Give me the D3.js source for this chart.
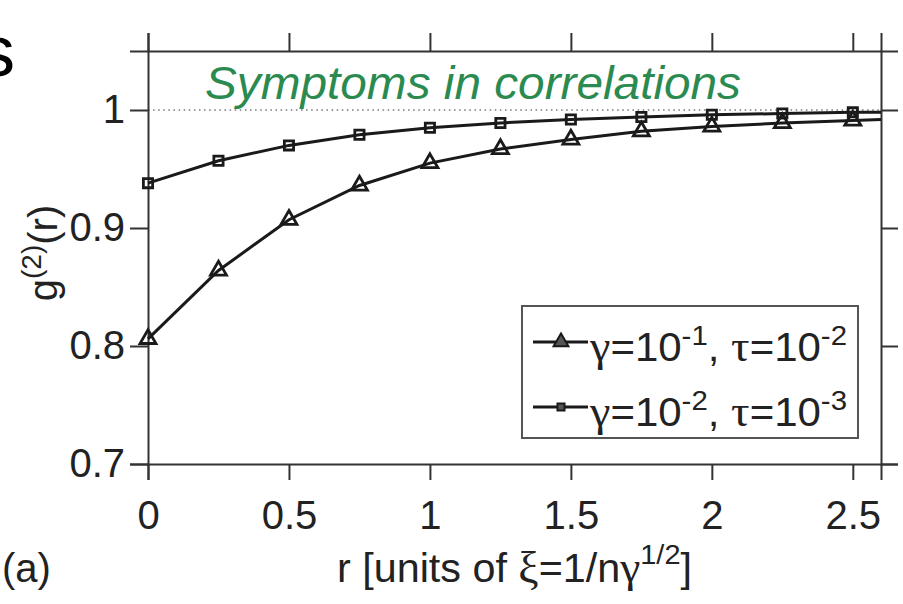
<!DOCTYPE html>
<html>
<head>
<meta charset="utf-8">
<script src="https://cdn.jsdelivr.net/npm/d3@7"></script>
<style>
  body { margin: 0; background: #fff; }
  svg text { font-family: "Liberation Sans", Arial, sans-serif; }
  .greek { font-family: "Liberation Serif", "Times New Roman", serif; }
</style>
</head>
<body>
<svg id="chart" width="903" height="604"></svg>
<script>
// r values where markers sit, plus the right edge the lines run to
const rValues = [0, 0.25, 0.5, 0.75, 1, 1.25, 1.5, 1.75, 2, 2.25, 2.5];
const rEdge = 2.6;

// gamma=1e-1, tau=1e-2 (triangles)
const gTriangle = [0.806, 0.864, 0.907, 0.936, 0.955, 0.967, 0.975, 0.982, 0.986, 0.989, 0.991];
const gTriangleEdge = 0.992;
// gamma=1e-2, tau=1e-3 (squares)
const gSquare = [0.938, 0.957, 0.970, 0.979, 0.985, 0.989, 0.992, 0.994, 0.996, 0.997, 0.998];
const gSquareEdge = 0.998;

const xTicks = [0, 0.5, 1, 1.5, 2, 2.5];
const yTicks = [0.7, 0.8, 0.9, 1];

const svg = d3.select("#chart");
const plotLeft = 148, plotRight = 881, plotTop = 51, plotBottom = 464;

const x = d3.scaleLinear().domain([0, 2.6]).range([plotLeft, plotRight]);
const y = d3.scaleLinear().domain([0.7, 1.05]).range([plotBottom, plotTop]);

const axisColor = "#333";
const textColor = "#222";

function styleAxis(g) {
  g.select(".domain").attr("stroke", axisColor).attr("stroke-width", 2);
  g.selectAll(".tick line").attr("stroke", axisColor).attr("stroke-width", 2);
  g.selectAll(".tick text").attr("fill", textColor).style("font-size", "40px");
}

// reference line at g=1
svg.append("line")
  .attr("x1", x(0)).attr("x2", x(2.6))
  .attr("y1", y(1)).attr("y2", y(1))
  .attr("stroke", "#999")
  .attr("stroke-width", 2)
  .attr("stroke-dasharray", "1.5,3.6");

// axes
svg.append("g")
  .attr("transform", `translate(0,${plotBottom})`)
  .call(d3.axisBottom(x).tickValues(xTicks).tickSize(16).tickPadding(21).tickFormat(d3.format("")))
  .call(styleAxis);

svg.append("g")
  .attr("transform", `translate(0,${plotTop})`)
  .call(d3.axisTop(x).tickValues(xTicks).tickSize(18).tickFormat(""))
  .call(styleAxis);

svg.append("g")
  .attr("transform", `translate(${plotLeft},0)`)
  .call(d3.axisLeft(y).tickValues(yTicks).tickSize(18).tickPadding(5).tickFormat(d3.format("")))
  .call(styleAxis);

svg.append("g")
  .attr("transform", `translate(${plotRight},0)`)
  .call(d3.axisRight(y).tickValues(yTicks).tickSize(17).tickFormat(""))
  .call(styleAxis);

// series
const series = [
  { values: gTriangle, edge: gTriangleEdge, symbol: d3.symbolTriangle, size: 110 },
  { values: gSquare, edge: gSquareEdge, symbol: d3.symbolSquare, size: 85 }
];

const line = d3.line().x(d => x(d[0])).y(d => y(d[1]));

series.forEach(s => {
  const pts = rValues.map((r, i) => [r, s.values[i]]).concat([[rEdge, s.edge]]);
  svg.append("path")
    .attr("d", line(pts))
    .attr("fill", "none")
    .attr("stroke", "#1a1a1a")
    .attr("stroke-width", 3);
  svg.append("g").selectAll("path")
    .data(rValues.map((r, i) => [r, s.values[i]]))
    .join("path")
    .attr("transform", d => `translate(${x(d[0])},${y(d[1])})`)
    .attr("d", d3.symbol(s.symbol, s.size))
    .attr("fill", "none")
    .attr("stroke", "#1a1a1a")
    .attr("stroke-width", 2.8);
});

// title
svg.append("text")
  .attr("x", 205).attr("y", 99)
  .attr("fill", "#2a8a50")
  .attr("textLength", 536)
  .attr("lengthAdjust", "spacingAndGlyphs")
  .style("font-size", "46px")
  .style("font-style", "italic")
  .text("Symptoms in correlations");

// legend
svg.append("rect")
  .attr("x", 522).attr("y", 306)
  .attr("width", 336).attr("height", 132)
  .attr("fill", "#fff")
  .attr("stroke", "#555")
  .attr("stroke-width", 2);

const legendRows = [
  { yPos: 342, symbol: d3.symbolTriangle, size: 95, g: "-1", t: "-2" },
  { yPos: 407, symbol: d3.symbolSquare, size: 50, g: "-2", t: "-3" }
];

legendRows.forEach(row => {
  svg.append("line")
    .attr("x1", 533).attr("x2", 588)
    .attr("y1", row.yPos).attr("y2", row.yPos)
    .attr("stroke", "#1a1a1a").attr("stroke-width", 3);
  svg.append("path")
    .attr("transform", `translate(561,${row.yPos})`)
    .attr("d", d3.symbol(row.symbol, row.size))
    .attr("fill", "#555")
    .attr("stroke", "#1a1a1a")
    .attr("stroke-width", 2);
  const t = svg.append("text")
    .attr("x", 590).attr("y", row.yPos + 19)
    .attr("fill", textColor)
    .attr("textLength", 257)
    .attr("lengthAdjust", "spacingAndGlyphs")
    .style("font-size", "40px");
  t.append("tspan").attr("class", "greek").style("font-size", "44px").text("γ");
  t.append("tspan").text("=10");
  t.append("tspan").attr("dy", -16).style("font-size", "28px").text(row.g);
  t.append("tspan").attr("dy", 16).text(", ");
  t.append("tspan").attr("class", "greek").style("font-size", "44px").text("τ");
  t.append("tspan").text("=10");
  t.append("tspan").attr("dy", -16).style("font-size", "28px").text(row.t);
});

// y label
const yl = svg.append("text")
  .attr("transform", "translate(57,253) rotate(-90)")
  .attr("text-anchor", "middle")
  .attr("fill", textColor)
  .style("font-size", "40px");
yl.append("tspan").text("g");
yl.append("tspan").attr("dy", -16).style("font-size", "28px").text("(2)");
yl.append("tspan").attr("dy", 16).text("(r)");

// x label
const xl = svg.append("text")
  .attr("x", 337).attr("y", 582)
  .attr("fill", textColor)
  .attr("textLength", 355)
  .attr("lengthAdjust", "spacingAndGlyphs")
  .style("font-size", "40px");
xl.append("tspan").text("r [units of ");
xl.append("tspan").attr("class", "greek").style("font-size", "44px").text("ξ");
xl.append("tspan").text("=1/n");
xl.append("tspan").attr("class", "greek").style("font-size", "44px").text("γ");
xl.append("tspan").attr("dy", -18).style("font-size", "28px").text("1/2");
xl.append("tspan").attr("dy", 18).text("]");

// panel tag
svg.append("text")
  .attr("x", 2).attr("y", 582)
  .attr("fill", textColor)
  .style("font-size", "40px")
  .text("(a)");

// clipped letter from the slide heading
svg.append("text")
  .attr("x", 15).attr("y", 76)
  .attr("text-anchor", "end")
  .attr("fill", "#000")
  .style("font-size", "72px")
  .text("s");
</script>
</body>
</html>
